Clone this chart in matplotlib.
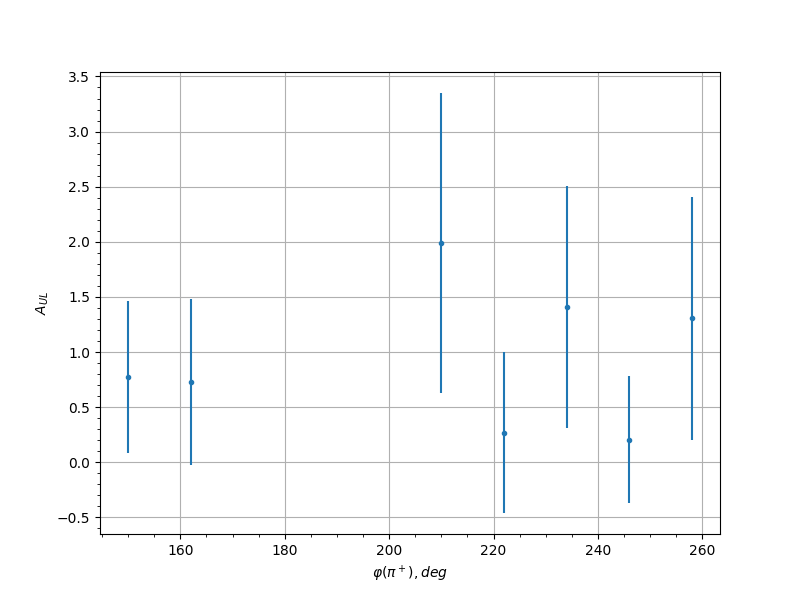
import matplotlib
matplotlib.use("Agg")
import matplotlib.pyplot as plt

phi = [150, 162, 210, 222, 234, 246, 258]
a_ul = [0.772, 0.727, 1.99, 0.27, 1.41, 0.206, 1.306]
a_err = [0.69, 0.754, 1.36, 0.73, 1.10, 0.575, 1.105]

fig, ax = plt.subplots(figsize=(8, 6), dpi=100)
ax.errorbar(phi, a_ul, yerr=a_err, fmt=".")
ax.set_xlabel(r"$\varphi(\pi^+), deg$")
ax.set_ylabel(r"$A_{UL}$")
ax.minorticks_on()
ax.grid(True)

plt.savefig("out.png")
